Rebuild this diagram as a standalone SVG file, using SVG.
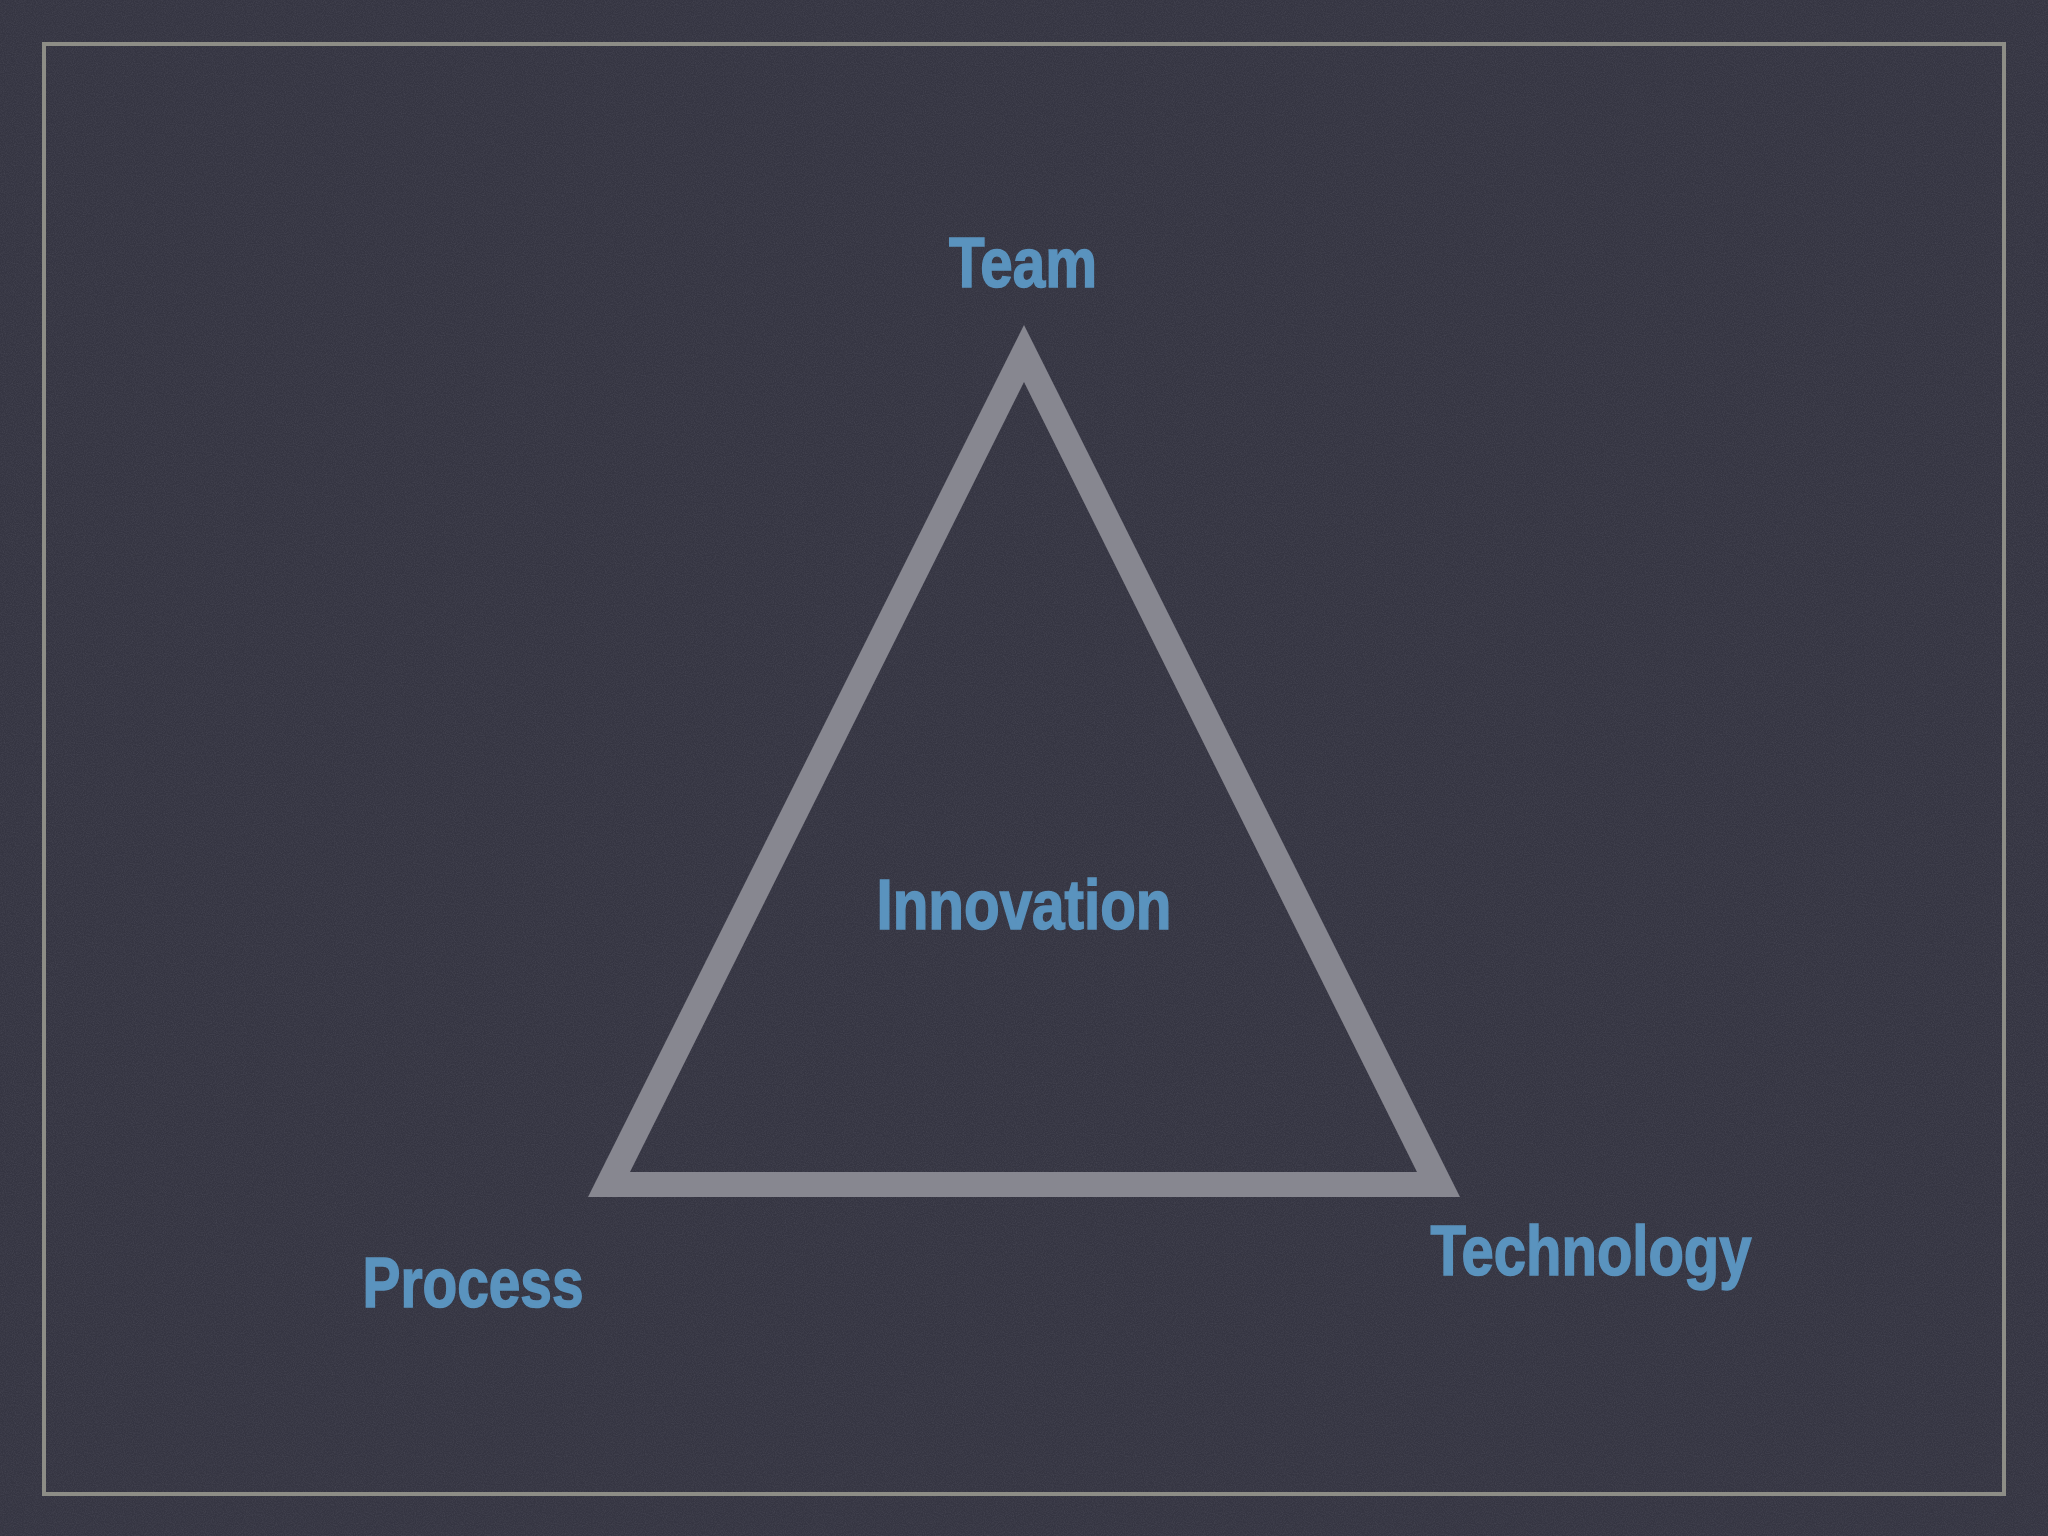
<svg xmlns="http://www.w3.org/2000/svg" width="2048" height="1536" viewBox="0 0 2048 1536">
  <defs>
    <filter id="grain" x="0" y="0" width="100%" height="100%">
      <feTurbulence type="fractalNoise" baseFrequency="0.9" numOctaves="2" seed="3" result="n"/>
      <feColorMatrix type="matrix" values="0 0 0 0 0.14  0 0 0 0 0.14  0 0 0 0 0.18  0 0 0 0.9 -0.3"/>
    </filter>
    <style>
      .lbl { font-family: "Liberation Sans Narrow", "Liberation Sans", Arial, sans-serif; font-weight: bold; font-size: 70px; fill: #5a93be; stroke: #5a93be; stroke-width: 1.6; text-anchor: middle; }
      .frame { fill: none; stroke: #8d8d86; stroke-width: 4; }
      .tri { fill: #878790; fill-rule: evenodd; }
    </style>
  </defs>
  <rect width="2048" height="1536" fill="#353542"/>
  <rect width="2048" height="1536" filter="url(#grain)" opacity="0.5"/>
  <rect class="frame" x="44" y="44" width="1960" height="1450"/>
  <g id="connectors">
    <path id="triangle" class="tri" d="M1024 325 L1460 1197 L588 1197 Z M1024 382 L630 1172 L1417 1172 Z"/>
  </g>
  <g id="team"><text class="lbl" x="1023" y="287" textLength="148" lengthAdjust="spacingAndGlyphs">Team</text></g>
  <g id="innovation"><text class="lbl" x="1024" y="929" textLength="295" lengthAdjust="spacingAndGlyphs">Innovation</text></g>
  <g id="process"><text class="lbl" x="473" y="1307" textLength="221" lengthAdjust="spacingAndGlyphs">Process</text></g>
  <g id="technology"><text class="lbl" x="1591" y="1275" textLength="321" lengthAdjust="spacingAndGlyphs">Technology</text></g>
</svg>
